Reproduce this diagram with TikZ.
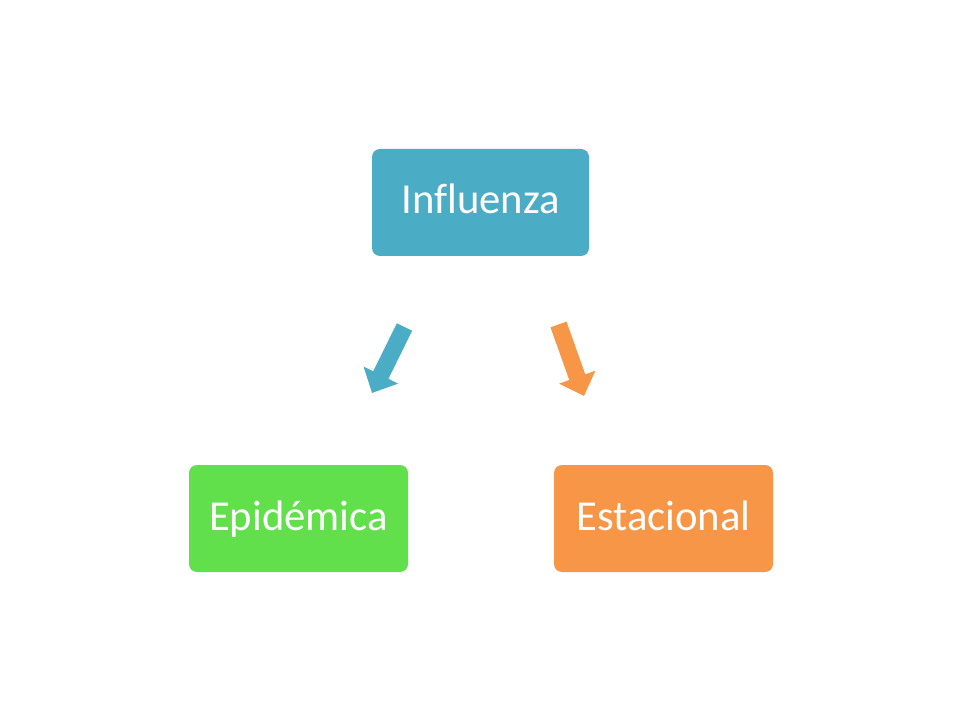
\documentclass[tikz,border=0pt]{standalone}
\usepackage{fontspec}
\setmainfont{Carlito}[Ligatures=NoCommon]
\usetikzlibrary{arrows.meta}
\definecolor{cblue}{HTML}{4BACC6}
\definecolor{cgreen}{HTML}{61E04B}
\definecolor{corange}{HTML}{F79646}
\tikzset{
  box/.style={text=white, font=\fontsize{32}{38}\selectfont, inner sep=0pt, anchor=base},
  bigarrow/.style={line width=12.75pt, -{Triangle[length=15pt, width=28pt]}}
}
\begin{document}
\begin{tikzpicture}[x=0.75pt, y=-0.75pt]
\useasboundingbox (0,0) rectangle (960,720);
\fill[white] (0,0) rectangle (960,720);
\fill[cblue, rounded corners=6pt] (372,149) rectangle (589,256);
\node[box] (inf) at (480.5,214) {Influenza};
\fill[cgreen, rounded corners=6pt] (189,465) rectangle (408,572);
\node[box] (epi) at (298.5,530) {Epidémica};
\fill[corange, rounded corners=6pt] (554,465) rectangle (773,572);
\node[box] (est) at (663.5,530) {Estacional};
\coordinate (b1) at (404.5,327);
\coordinate (b2) at (372,393);
\coordinate (o1) at (558.5,324.5);
\coordinate (o2) at (584,396);
\draw[bigarrow, cblue] (b1) -- (b2);
\draw[bigarrow, corange] (o1) -- (o2);
\end{tikzpicture}
\end{document}
